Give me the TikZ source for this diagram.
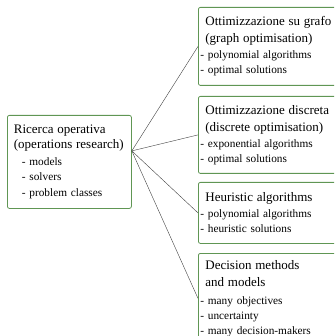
\documentclass[tikz,border=0pt]{standalone}
\usepackage{fontspec}
\setmainfont{Liberation Serif}
\usetikzlibrary{positioning}
\definecolor{boxgreen}{RGB}{96,150,84}
\newcommand{\ttl}[1]{{\fontsize{13}{19}\selectfont #1}}
\newcommand{\bdyfont}{\fontsize{11.3}{15}\selectfont}

\begin{document}
\begin{tikzpicture}[x=1pt, y=-1pt,
        topic/.style={rectangle, draw=boxgreen, line width=0.8pt, rounded corners=2pt, align=left, anchor=north west, font=\bdyfont, text width=146pt, minimum width=150pt, inner xsep=1.5pt, inner ysep=0pt},
        link/.style={draw=black!75, line width=0.4pt}
    ]
        \useasboundingbox (0,0) rectangle (334,336);
        \clip (0,0) rectangle (334,336);
        % root
        \node[topic, text width=111pt, minimum width=124pt, minimum height=93pt, inner xsep=6.5pt] (or) at (7,115) {\ttl{Ricerca operativa}\\[0pt]\ttl{(operations research)}\\[2pt]\hspace*{8pt}- models\\\hspace*{8pt}- solvers\\\hspace*{8pt}- problem classes};
        \coordinate (hub) at ([yshift=11pt]or.east);
        % branches
        \node[topic, minimum height=78pt] (graph) at (198,7) {\hspace*{5pt}\ttl{Ottimizzazione su grafo}\\[2pt]\hspace*{5pt}\ttl{(graph optimisation)}\\[1pt]- polynomial algorithms\\- optimal solutions};
        \node[topic, minimum height=77pt] (disc) at (198,96) {\hspace*{5pt}\ttl{Ottimizzazione discreta}\\[2pt]\hspace*{5pt}\ttl{(discrete optimisation)}\\[1pt]- exponential algorithms\\- optimal solutions};
        \node[topic, minimum height=61pt] (heur) at (198,182) {\hspace*{5pt}\ttl{Heuristic algorithms}\\[1pt]- polynomial algorithms\\- heuristic solutions};
        \node[topic, minimum height=90pt] (dec) at (198,253) {\hspace*{5pt}\ttl{Decision methods}\\[2pt]\hspace*{5pt}\ttl{and models}\\[3pt]- many objectives\\- uncertainty\\- many decision-makers};
        \draw[link] (hub) -- (graph.west);
        \draw[link] (hub) -- (disc.west);
        \draw[link] (hub) -- (heur.west);
        \draw[link] (hub) -- (dec.west);
    \end{tikzpicture}
\end{document}
